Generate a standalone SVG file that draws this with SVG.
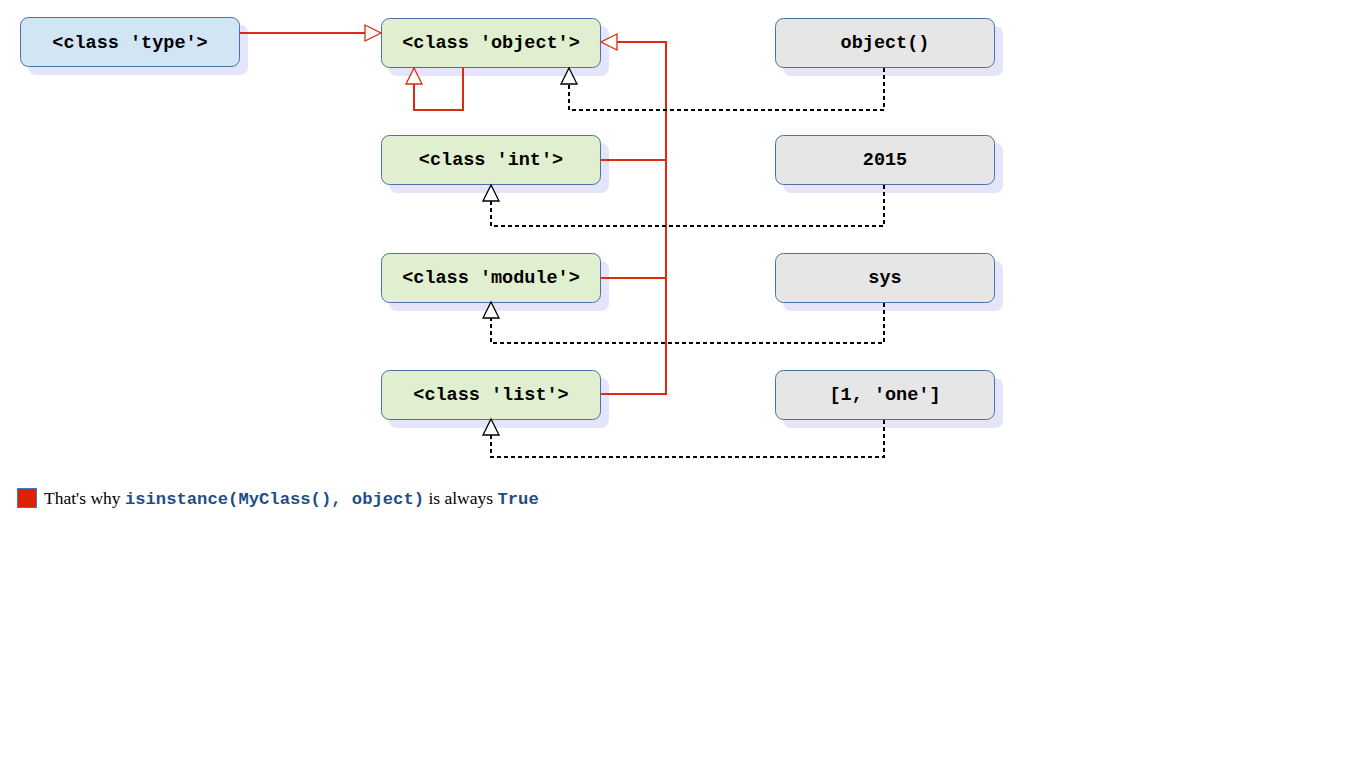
<svg xmlns="http://www.w3.org/2000/svg" width="1366" height="768" viewBox="0 0 1366 768">
<style>
.sh{fill:#e4e4fb}
.bx{stroke:#4a72a8;stroke-width:1}
.blue{fill:#d1e5f4}
.green{fill:#e0efcf}
.gray{fill:#e6e6e6}
.lbl{font-family:"Liberation Mono",monospace;font-weight:bold;font-size:18.5px;fill:#000;text-anchor:middle}
.red{stroke:#e02a10;stroke-width:2;fill:none}
.dash{stroke:#000;stroke-width:2;fill:none;stroke-dasharray:4,3}
.code{font-family:"Liberation Mono",monospace;font-weight:bold;font-size:17.2px;fill:#1f4e85}
</style>
<defs>
<marker id="rt" markerWidth="20" markerHeight="20" refX="17" refY="9" orient="auto" markerUnits="userSpaceOnUse"><path d="M1,1 L17,9 L1,17 Z" fill="#fff" stroke="#e02a10" stroke-width="1.3"/></marker>
<marker id="bt" markerWidth="20" markerHeight="20" refX="17" refY="9" orient="auto" markerUnits="userSpaceOnUse"><path d="M1,1 L17,9 L1,17 Z" fill="#fff" stroke="#000" stroke-width="1.3"/></marker>
</defs>
<g id="type"><rect class="sh" x="28" y="25" width="220" height="50" rx="8"/><rect class="bx blue" x="20.5" y="17.5" width="219" height="49" rx="8"/><text class="lbl" x="130" y="48">&lt;class 'type'&gt;</text></g>
<g id="object"><rect class="sh" x="389" y="26" width="220" height="50" rx="8"/><rect class="bx green" x="381.5" y="18.5" width="219" height="49" rx="8"/><text class="lbl" x="491" y="48">&lt;class 'object'&gt;</text></g>
<g id="int"><rect class="sh" x="389" y="143" width="220" height="50" rx="8"/><rect class="bx green" x="381.5" y="135.5" width="219" height="49" rx="8"/><text class="lbl" x="491" y="165">&lt;class 'int'&gt;</text></g>
<g id="module"><rect class="sh" x="389" y="261" width="220" height="50" rx="8"/><rect class="bx green" x="381.5" y="253.5" width="219" height="49" rx="8"/><text class="lbl" x="491" y="283">&lt;class 'module'&gt;</text></g>
<g id="list"><rect class="sh" x="389" y="378" width="220" height="50" rx="8"/><rect class="bx green" x="381.5" y="370.5" width="219" height="49" rx="8"/><text class="lbl" x="491" y="400">&lt;class 'list'&gt;</text></g>
<g id="objinst"><rect class="sh" x="783" y="26" width="220" height="50" rx="8"/><rect class="bx gray" x="775.5" y="18.5" width="219" height="49" rx="8"/><text class="lbl" x="885" y="48">object()</text></g>
<g id="i2015"><rect class="sh" x="783" y="143" width="220" height="50" rx="8"/><rect class="bx gray" x="775.5" y="135.5" width="219" height="49" rx="8"/><text class="lbl" x="885" y="165">2015</text></g>
<g id="sys"><rect class="sh" x="783" y="261" width="220" height="50" rx="8"/><rect class="bx gray" x="775.5" y="253.5" width="219" height="49" rx="8"/><text class="lbl" x="885" y="283">sys</text></g>
<g id="lst"><rect class="sh" x="783" y="378" width="220" height="50" rx="8"/><rect class="bx gray" x="775.5" y="370.5" width="219" height="49" rx="8"/><text class="lbl" x="885" y="400">[1, 'one']</text></g>
<g id="connectors">
<path class="red" d="M240,33 H381" marker-end="url(#rt)"/>
<path class="red" d="M463,67 V110 H414 V68" marker-end="url(#rt)"/>
<path class="red" d="M601,394 H666 V42 H601" marker-end="url(#rt)"/>
<path class="red" d="M601,160 H666 M601,278 H666"/>
<path class="dash" d="M884,68 V110 H569 V68" marker-end="url(#bt)"/>
<path class="dash" d="M884,185 V226 H491 V185" marker-end="url(#bt)"/>
<path class="dash" d="M884,303 V343 H491 V302" marker-end="url(#bt)"/>
<path class="dash" d="M884,420 V457 H491 V419" marker-end="url(#bt)"/>
</g>
<g id="legend">
<rect x="17.5" y="488.5" width="19" height="19" fill="#dd2200" stroke="#3a7ad0" stroke-width="1"/>
<text x="44" y="504" font-family="Liberation Serif,serif" font-size="17.5" fill="#000">That's why <tspan class="code">isinstance(MyClass(), object)</tspan> is always <tspan class="code">True</tspan></text>
</g>
</svg>
